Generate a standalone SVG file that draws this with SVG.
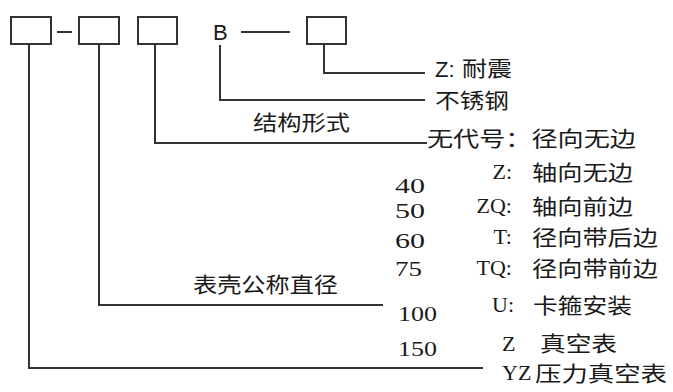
<svg xmlns="http://www.w3.org/2000/svg" width="673" height="392" viewBox="0 0 673 392">
<style>
.box{fill:none;stroke:#333;stroke-width:2}
.ln{fill:none;stroke:#333;stroke-width:2}
.cn{font-family:"Noto Sans CJK SC","Noto Sans CJK JP",sans-serif;font-size:21px;fill:#1a1a1a}
.lt{font-family:"Liberation Serif",serif;font-size:22px;fill:#1a1a1a}
.ls{font-family:"Liberation Sans",sans-serif;font-size:22px;fill:#1a1a1a}
</style>
<rect width="673" height="392" fill="#fff"/>
<g id="boxes">
<g id="box1"><rect class="box" x="11" y="17" width="40" height="27"/></g>
<g id="box2"><rect class="box" x="79" y="17" width="40" height="27"/></g>
<g id="box3"><rect class="box" x="138" y="17" width="39" height="27"/></g>
<g id="b-label"><text class="ls" x="213" y="40">B</text></g>
<g id="box4"><rect class="box" x="307" y="17" width="39" height="27"/></g>
</g>
<g id="connectors">
<line class="ln" x1="57" y1="32" x2="72" y2="32"/>
<line class="ln" x1="241" y1="32" x2="290" y2="32"/>
<polyline class="ln" points="324,44 324,73 425,73"/>
<polyline class="ln" points="220,45 220,100 425,100"/>
<polyline class="ln" points="155,44 155,143 427,143"/>
<polyline class="ln" points="99,44 99,305 383,305"/>
<polyline class="ln" points="29,44 29,368 483,368"/>
</g>
<g id="label-shock"><text class="ls" x="435" y="77">Z:</text><text class="cn" x="462" y="76" textLength="50" lengthAdjust="spacingAndGlyphs">耐震</text></g>
<g id="label-steel"><text class="cn" x="435" y="108" textLength="74" lengthAdjust="spacingAndGlyphs">不锈钢</text></g>
<g id="label-structure"><text class="cn" x="253" y="130" textLength="97" lengthAdjust="spacingAndGlyphs">结构形式</text></g>
<g id="label-nocode"><text class="cn" x="427" y="146" textLength="209" lengthAdjust="spacingAndGlyphs">无代号：径向无边</text></g>
<g id="label-z"><text class="lt" x="512" y="179" text-anchor="end">Z:</text><text class="cn" x="532" y="180" textLength="101" lengthAdjust="spacingAndGlyphs">轴向无边</text></g>
<g id="label-zq"><text class="lt" x="512" y="213" text-anchor="end">ZQ:</text><text class="cn" x="532" y="214" textLength="101" lengthAdjust="spacingAndGlyphs">轴向前边</text></g>
<g id="label-t"><text class="lt" x="512" y="244" text-anchor="end">T:</text><text class="cn" x="532" y="245" textLength="126" lengthAdjust="spacingAndGlyphs">径向带后边</text></g>
<g id="label-tq"><text class="lt" x="512" y="275" text-anchor="end">TQ:</text><text class="cn" x="532" y="276" textLength="126" lengthAdjust="spacingAndGlyphs">径向带前边</text></g>
<g id="label-u"><text class="lt" x="514" y="312" text-anchor="end">U:</text><text class="cn" x="533" y="313" textLength="99" lengthAdjust="spacingAndGlyphs">卡箍安装</text></g>
<g id="label-vac"><text class="lt" x="502" y="351">Z</text><text class="cn" x="540" y="351" textLength="77" lengthAdjust="spacingAndGlyphs">真空表</text></g>
<g id="label-pvac"><text class="lt" x="502" y="380">YZ</text><text class="cn" x="535" y="381" textLength="132" lengthAdjust="spacingAndGlyphs">压力真空表</text></g>
<g id="label-diameter"><text class="cn" x="193" y="292" textLength="145" lengthAdjust="spacingAndGlyphs">表壳公称直径</text></g>
<g id="sizes">
<text class="lt" x="395" y="193" textLength="30" lengthAdjust="spacingAndGlyphs">40</text>
<text class="lt" x="395" y="218" textLength="30" lengthAdjust="spacingAndGlyphs">50</text>
<text class="lt" x="395" y="248" textLength="30" lengthAdjust="spacingAndGlyphs">60</text>
<text class="lt" x="395" y="276" textLength="27" lengthAdjust="spacingAndGlyphs">75</text>
<text class="lt" x="398" y="321" textLength="39" lengthAdjust="spacingAndGlyphs">100</text>
<text class="lt" x="398" y="356" textLength="39" lengthAdjust="spacingAndGlyphs">150</text>
</g>
</svg>
